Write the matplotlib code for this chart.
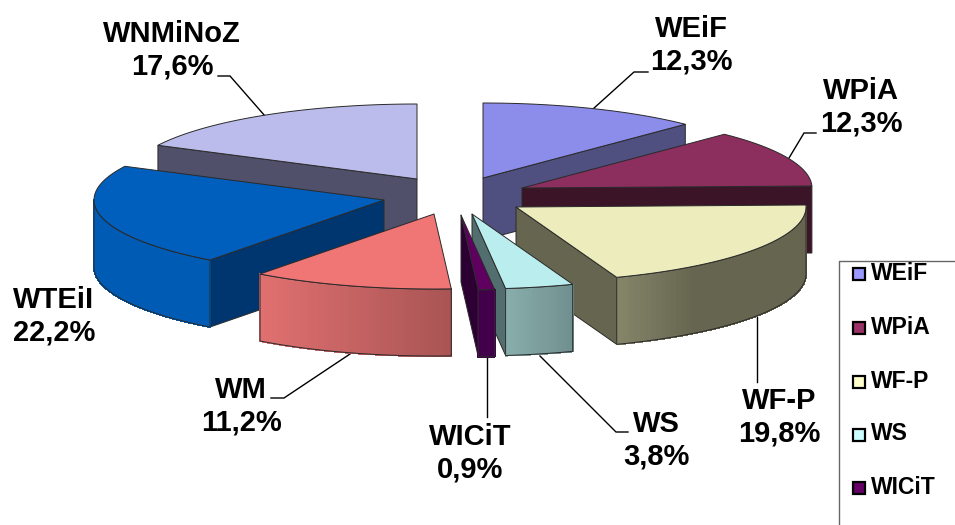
import numpy as np
import matplotlib
matplotlib.use("Agg")
import matplotlib.pyplot as plt
from matplotlib.patches import Polygon, Rectangle

plt.rcParams['font.family'] = ['Liberation Sans', 'DejaVu Sans']

# ---- data ----
categories = ["WEiF", "WPiA", "WF-P", "WS", "WICiT", "WM", "WTEiI", "WNMiNoZ"]
shares = [12.3, 12.3, 19.8, 3.8, 0.9, 11.2, 22.2, 17.6]
legend_items = ["WEiF", "WPiA", "WF-P", "WS", "WICiT"]

# ---- styles ----
top_colors = ["#8C8CEB", "#8C2E5E", "#ECECBD", "#BAEDED", "#5F0060", "#F07575", "#005EBD", "#BCBCEC"]
wall_colors = ["#4F4F80", "#3C1428", "#666650", "#536E6E", "#2C0033", "#A85454", "#00366F", "#50506A"]
outer_left = ["#4F4F80", "#3C1428", "#85856A", "#88AEAB", "#42004A", "#E07070", "#005BB5", "#50506A"]
outer_right = ["#4F4F80", "#3C1428", "#666650", "#6F8F8E", "#42004A", "#A85454", "#005BB5", "#50506A"]
legend_colors = ["#9999FF", "#993366", "#FFFFCC", "#CCFFFF", "#660066"]

# ---- layout (pixels) ----
W, H = 955, 525
RX, RY = 290, 75
apex = [(483, 178), (522, 188), (516, 207), (472, 214), (461, 215), (434, 214), (384, 200), (417, 179)]
depth = [62, 67, 67, 67, 67, 67, 67, 67]
draw_order = [0, 1, 7, 2, 6, 5, 3, 4]
label_pos = [(691, 45), (861, 107), (779, 417), (656, 440), (470, 453), (241, 406), (54, 316), (172, 50)]
leaders = [
    [(593, 109), (634, 72), (648, 72)],
    [(789, 158), (804, 133), (816, 133)],
    [(757, 317), (757, 382)],
    [(540, 356), (616, 432), (628, 432)],
    [(487, 358), (487, 417)],
    [(350, 354), (284, 398), (271, 398)],
    None,
    [(265, 116), (230, 76), (218, 76)],
]
EDGE = "#2a2a2a"

fig = plt.figure(figsize=(W / 100, H / 100), dpi=100)
ax = fig.add_axes([0, 0, 1, 1])
ax.set_xlim(0, W)
ax.set_ylim(H, 0)
ax.axis("off")

values = np.array(shares, dtype=float)
cum = np.concatenate([[0], np.cumsum(values)]) / values.sum() * 2 * np.pi


def rim(i, th):
    cx, cy = apex[i]
    th = np.asarray(th)
    return cx + RX * np.sin(th), cy - RY * np.cos(th)


def hexmix(a, b, t):
    a = np.array(matplotlib.colors.to_rgb(a))
    b = np.array(matplotlib.colors.to_rgb(b))
    return tuple(a + (b - a) * t)


for i in draw_order:
    a0, a1 = cum[i], cum[i + 1]
    cx, cy = apex[i]
    d = depth[i]
    z = 2 + draw_order.index(i)

    # visible radial walls
    for ang, vis in ((a1, np.sin(a1) > 0), (a0, np.sin(a0) < 0)):
        if vis:
            x, y = rim(i, ang)
            ax.add_patch(Polygon([(cx, cy), (x, y), (x, y + d), (cx, cy + d)], closed=True,
                                 fc=wall_colors[i], ec=EDGE, lw=0.7, zorder=z))

    # outer wall: the part of the rim that faces the viewer
    lo, hi = max(a0, np.pi / 2), min(a1, 3 * np.pi / 2)
    if hi > lo:
        th = np.linspace(lo, hi, 60)
        xs, ys = rim(i, th)
        xmin, xmax = xs.min(), xs.max()
        outline = list(zip(xs, ys)) + list(zip(xs[::-1], ys[::-1] + d))
        # solid base avoids seams between the gradient strips
        ax.add_patch(Polygon(outline, closed=True, fc=outer_right[i], ec="none", zorder=z))
        for k in range(len(th) - 1):
            t = ((xs[k] + xs[k + 1]) / 2 - xmin) / max(xmax - xmin, 1)
            if i == 2:
                t = min(t / 0.4, 1)  # olive wall settles quickly to its dark tone
            c = hexmix(outer_left[i], outer_right[i], t)
            ax.add_patch(Polygon([(xs[k], ys[k]), (xs[k + 1], ys[k + 1]),
                                  (xs[k + 1], ys[k + 1] + d), (xs[k], ys[k] + d)],
                                 closed=True, fc=c, ec=c, lw=0.8, antialiased=False, zorder=z))
        ax.add_patch(Polygon(outline, closed=True, fc="none", ec=EDGE, lw=0.7, zorder=z))

    # top face
    th = np.linspace(a0, a1, 80)
    xs, ys = rim(i, th)
    ax.add_patch(Polygon([(cx, cy)] + list(zip(xs, ys)), closed=True,
                         fc=top_colors[i], ec=EDGE, lw=0.7, zorder=z, joinstyle="round"))

# labels and leader lines
for i, cat in enumerate(categories):
    if leaders[i] is not None:
        lx, ly = zip(*leaders[i])
        ax.plot(lx, ly, color="black", lw=1.0, zorder=1, solid_joinstyle="miter")
    pct = f"{shares[i]:.1f}".replace(".", ",") + "%"
    ax.text(label_pos[i][0], label_pos[i][1], f"{cat}\n{pct}", ha="center", va="center",
            fontsize=21, fontweight="bold", color="black", linespacing=1.19, zorder=20)

# legend, cut off by the picture's edge as in the reference
ax.plot([W + 5, 839, 839], [261, 261, H + 5], color="#666666", lw=1.0, zorder=20)
legend_y = [274, 328, 382, 435, 488]
for name, col, y in zip(legend_items, legend_colors, legend_y):
    ax.add_patch(Rectangle((852.5, y - 6), 12, 12, fc=col, ec="black", lw=1.6, zorder=21))
    ax.text(871, y - 1, name, ha="left", va="center", fontsize=16.5, fontweight="bold",
            color="black", zorder=21)

fig.savefig("out.png", dpi=100)
